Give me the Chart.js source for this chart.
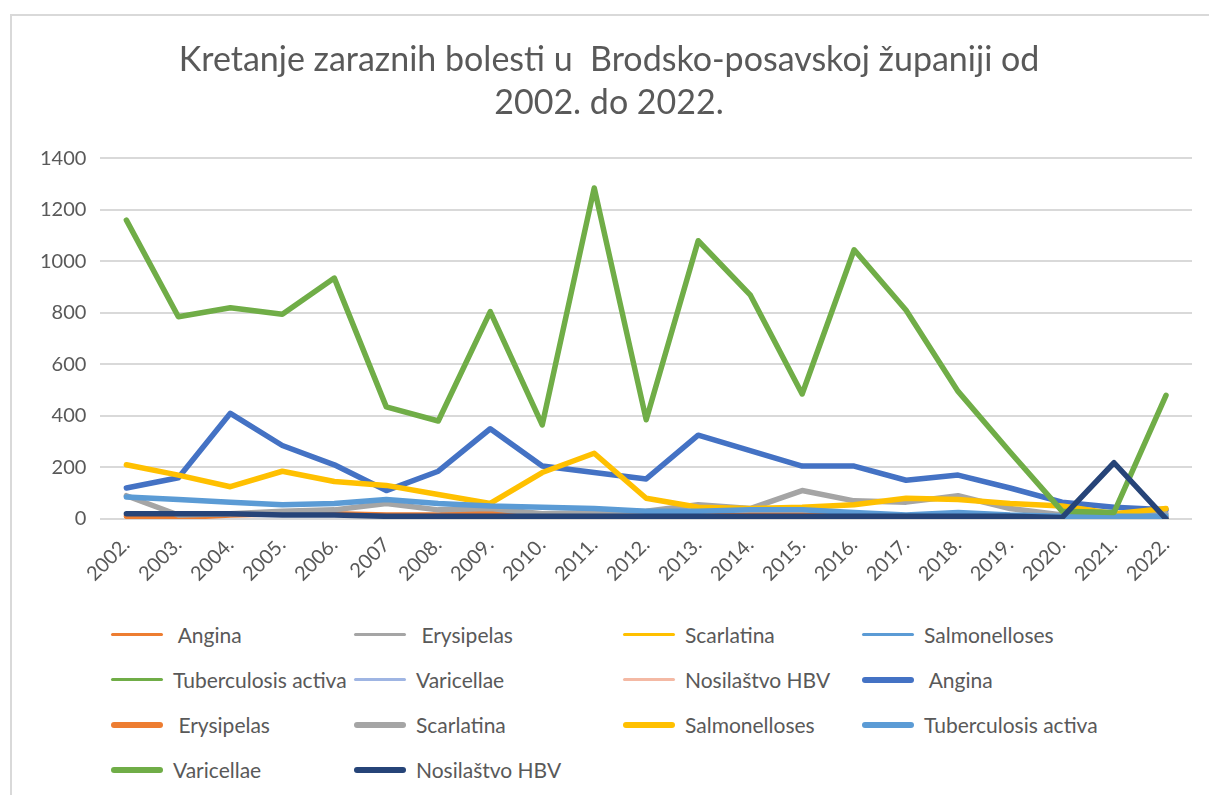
<!DOCTYPE html>
<html>
<head>
<meta charset="utf-8">
<script src="https://cdn.jsdelivr.net/npm/chart.js@4.4.1/dist/chart.umd.min.js"></script>
<style>
  body { margin: 0; background: #fff; width: 1209px; height: 795px; overflow: hidden; position: relative; }
  .frame { position: absolute; left: 10px; top: 14px; width: 1300px; height: 900px; border: 2px solid #d9d9d9; box-sizing: border-box; }
  .plot { position: absolute; left: 0; top: 0; width: 1209px; height: 600px; }
  #legend { position: absolute; left: 111px; top: 612px; display: grid;
    grid-template-columns: 243px 269px 239px 300px; grid-auto-rows: 45px;
    font-family: Lato, sans-serif; font-size: 21px; color: #595959; }
  .item { display: flex; align-items: center; white-space: pre; }
  .swatch { width: 52px; margin-right: 10px; border-radius: 3px; flex: none; }
</style>
</head>
<body>
<div class="frame"></div>
<div class="plot"><canvas id="lineChart"></canvas></div>
<div id="legend"></div>
<script>
const years = ['2002.', '2003.', '2004.', '2005.', '2006.', '2007', '2008.', '2009.', '2010.', '2011.', '2012.',
  '2013.', '2014.', '2015.', '2016.', '2017.', '2018.', '2019.', '2020.', '2021.', '2022.'];

const angina = [120, 160, 410, 285, 210, 110, 185, 350, 205, 180, 155, 325, 265, 205, 205, 150, 170, 120, 65, 45, 35];
const erysipelas = [10, 5, 15, 20, 20, 15, 15, 30, 10, 10, 10, 10, 15, 15, 10, 10, 10, 5, 5, 5, 5];
const scarlatina = [90, 15, 20, 30, 35, 60, 35, 40, 20, 25, 30, 55, 40, 110, 70, 65, 90, 40, 15, 10, 20];
const salmonelloses = [210, 170, 125, 185, 145, 130, 95, 60, 180, 255, 80, 45, 40, 45, 55, 80, 75, 60, 50, 20, 40];
const tuberculosis = [85, 75, 65, 55, 60, 75, 60, 50, 45, 40, 30, 30, 35, 35, 25, 15, 25, 15, 10, 10, 10];
const varicellae = [1160, 785, 820, 795, 935, 435, 380, 805, 365, 1285, 385, 1080, 870, 485, 1045, 810, 495, 260, 30, 25, 480];
const hbv = [20, 20, 20, 15, 15, 10, 10, 10, 10, 10, 10, 10, 10, 10, 10, 10, 10, 10, 5, 218, 0];

const yTicks = [0, 200, 400, 600, 800, 1000, 1200, 1400];

const titleLines = ['Kretanje zaraznih bolesti u  Brodsko-posavskoj županiji od', '2002. do 2022.'];

// first group: legend only, no visible values
const thinSeries = [
  { label: ' Angina', color: '#ED7D31' },
  { label: ' Erysipelas', color: '#A5A5A5' },
  { label: 'Scarlatina', color: '#FFC000' },
  { label: 'Salmonelloses', color: '#5B9BD5' },
  { label: 'Tuberculosis activa', color: '#70AD47' },
  { label: 'Varicellae', color: '#9FB5E3' },
  { label: 'Nosilaštvo HBV', color: '#F4B9A4' }
];

const thickSeries = [
  { label: ' Angina', color: '#4472C4', data: angina },
  { label: ' Erysipelas', color: '#ED7D31', data: erysipelas },
  { label: 'Scarlatina', color: '#A5A5A5', data: scarlatina },
  { label: 'Salmonelloses', color: '#FFC000', data: salmonelloses },
  { label: 'Tuberculosis activa', color: '#5B9BD5', data: tuberculosis },
  { label: 'Varicellae', color: '#70AD47', data: varicellae },
  { label: 'Nosilaštvo HBV', color: '#264478', data: hbv }
];

const datasets = [
  ...thinSeries.map(s => ({ label: s.label, data: [], borderColor: s.color, backgroundColor: s.color, borderWidth: 3 })),
  ...thickSeries.map(s => ({ label: s.label, data: s.data, borderColor: s.color, backgroundColor: s.color, borderWidth: 5.5 }))
];
// later series are painted on top, like the original
datasets.forEach((ds, i) => { ds.order = datasets.length - i; });

const ctx = document.getElementById('lineChart').getContext('2d');
const chart = new Chart(ctx, {
  type: 'line',
  data: { labels: years, datasets: datasets },
  options: {
    responsive: true,
    maintainAspectRatio: false,
    animation: false,
    layout: { padding: { left: 26, right: 17, top: 38, bottom: 8 } },
    elements: {
      point: { radius: 0, hoverRadius: 0 },
      line: { tension: 0, borderCapStyle: 'round', borderJoinStyle: 'round' }
    },
    plugins: {
      legend: { display: false },
      tooltip: { enabled: false },
      title: {
        display: true,
        text: titleLines,
        color: '#595959',
        font: { family: 'Lato', size: 34, weight: 'normal', lineHeight: 1.27 },
        padding: { top: 0, bottom: 34 }
      }
    },
    scales: {
      x: {
        offset: true,
        grid: { display: false },
        border: { display: false },
        ticks: {
          color: '#595959',
          font: { family: 'Lato', size: 20 },
          minRotation: 45,
          maxRotation: 45,
          padding: 6
        }
      },
      y: {
        min: 0,
        max: 1400,
        afterBuildTicks: axis => { axis.ticks = yTicks.map(v => ({ value: v })); },
        grid: { color: '#d9d9d9', lineWidth: 2, drawTicks: false },
        border: { display: false },
        ticks: {
          color: '#595959',
          font: { family: 'Lato', size: 20 },
          padding: 14,
          callback: v => String(v)
        }
      }
    }
  }
});

// html legend in four columns, built from the chart datasets
const legendEl = document.getElementById('legend');
chart.data.datasets.forEach(ds => {
  const item = document.createElement('div');
  item.className = 'item';
  const sw = document.createElement('span');
  sw.className = 'swatch';
  sw.style.background = ds.borderColor;
  sw.style.height = (ds.borderWidth > 4 ? 6 : 3) + 'px';
  item.appendChild(sw);
  item.appendChild(document.createTextNode(ds.label));
  legendEl.appendChild(item);
});
</script>
</body>
</html>
